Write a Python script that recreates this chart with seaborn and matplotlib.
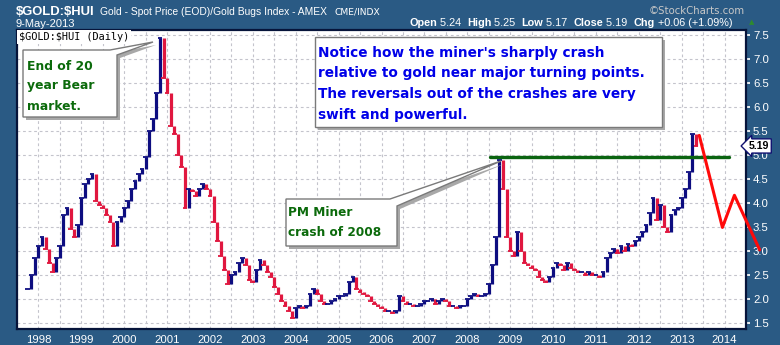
import numpy as np
import pandas as pd
import matplotlib
matplotlib.use("Agg")
import matplotlib.pyplot as plt
import seaborn as sns
from matplotlib.patches import Polygon

# ---------------- data (monthly closes of $GOLD:$HUI) ----------------
start_year, start_month = 1997, 10
close_1997 = [2.2, 2.5, 2.85]
close_1998 = [3.1, 3.3, 3.05, 2.75, 2.55, 2.85, 3.1, 3.75, 3.9, 3.45, 3.3, 3.55]
close_1999 = [4.1, 4.4, 4.5, 4.6, 4.05, 3.95, 3.9, 3.75, 3.6, 3.1, 3.6, 3.7]
close_2000 = [3.9, 4.05, 4.3, 4.45, 4.6, 4.7, 4.95, 5.5, 5.75, 6.3, 7.45, 6.6]
close_2001 = [6.3, 5.6, 5.45, 5.0, 4.75, 3.9, 4.3, 4.25, 4.15, 4.3, 4.4, 4.3]
close_2002 = [4.15, 3.6, 3.2, 2.9, 2.6, 2.3, 2.5, 2.55, 2.75, 2.85, 2.7, 2.4]
close_2003 = [2.35, 2.6, 2.8, 2.7, 2.55, 2.45, 2.25, 2.1, 1.95, 1.85, 1.75, 1.6]
close_2004 = [1.8, 1.85, 1.8, 1.85, 2.1, 2.2, 2.1, 1.95, 1.9, 1.9, 1.95, 2.0]
close_2005 = [2.05, 2.05, 2.1, 2.35, 2.45, 2.2, 2.15, 2.1, 2.05, 1.95, 1.9, 1.85]
close_2006 = [1.8, 1.75, 1.75, 1.7, 1.75, 2.05, 1.95, 1.9, 1.9, 1.85, 1.85, 1.9]
close_2007 = [1.95, 1.95, 2.0, 1.9, 1.95, 2.0, 1.95, 1.85, 1.85, 1.8, 1.85, 1.85]
close_2008 = [2.0, 2.05, 2.1, 2.05, 2.05, 2.1, 2.3, 2.7, 3.3, 4.9, 4.3, 3.3]
close_2009 = [3.0, 2.9, 3.4, 3.0, 2.75, 2.7, 2.65, 2.6, 2.45, 2.4, 2.35, 2.45]
close_2010 = [2.65, 2.75, 2.7, 2.6, 2.75, 2.65, 2.6, 2.55, 2.55, 2.5, 2.55, 2.5]
close_2011 = [2.5, 2.45, 2.55, 2.85, 2.95, 3.05, 2.95, 3.1, 3.0, 3.15, 3.1, 3.2]
close_2012 = [3.3, 3.4, 3.55, 3.8, 4.1, 3.65, 3.95, 3.5, 3.4, 3.75, 3.85, 3.9]
close_2013 = [4.1, 4.3, 4.65, 5.45, 5.19]

year_ticks = list(range(1998, 2015))
value_ticks = [1.5, 2.0, 2.5, 3.0, 3.5, 4.0, 4.5, 5.0, 5.5, 6.0, 6.5, 7.0, 7.5]

resist_x = [2008.52, 2014.11]
resist_y = [4.95, 4.95]
proj_x = [2013.41, 2013.95, 2014.23, 2014.82]
proj_y = [5.41, 3.49, 4.16, 3.02]

last_value = 5.19

closes = (close_1997 + close_1998 + close_1999 + close_2000 + close_2001 + close_2002
          + close_2003 + close_2004 + close_2005 + close_2006 + close_2007 + close_2008
          + close_2009 + close_2010 + close_2011 + close_2012 + close_2013)
n = len(closes)
t = [start_year + (start_month - 1 + i) / 12.0 for i in range(n)]
df = pd.DataFrame({"t": t, "close": closes})
df["open"] = df["close"].shift(1).fillna(df["close"])
df["dir"] = np.where(df["close"] >= df["open"], "up", "down")

# ---------------- style ----------------
BG = "#2a5a84"
W, H = 780, 345
sns.set_theme(style="white")
plt.rcParams["font.family"] = ["Liberation Sans", "DejaVu Sans"]

fig = plt.figure(figsize=(W / 100, H / 100), dpi=100, facecolor=BG)
renderer = fig.canvas.get_renderer()

def P(x, y):
    return (x / W, 1 - y / H)

def width_px(tt):
    return tt.get_window_extent(renderer=renderer).width

L, R, T, B = 17, 746, 30, 329
ax = fig.add_axes([L / W, 1 - B / H, (R - L) / W, (B - T) / H])
ax.set_facecolor("white")

up_c, dn_c = "#0d0d80", "#e0173f"
cols = np.where(df["dir"] == "up", up_c, dn_c)
ax.vlines(df["t"], df[["open", "close"]].min(axis=1), df[["open", "close"]].max(axis=1),
          colors=cols, lw=2.3, zorder=3)
sns.scatterplot(data=df, x="t", y="close", hue="dir", palette={"up": up_c, "down": dn_c},
                marker="_", s=12, linewidth=1.3, legend=False, ax=ax, zorder=4)

sns.lineplot(x=resist_x, y=resist_y, color="#0a6410", lw=2.4, ax=ax, zorder=5)
sns.lineplot(x=proj_x, y=proj_y, color="#ff0a0a", lw=2.2, ax=ax, zorder=5, sort=False)
for ln in ax.lines[-1:]:
    ln.set_clip_on(False)

ax.set_xlim(1997.73, 2014.34)
ax.set_ylim(1.37, 7.61)
ax.set_xticks(year_ticks)
ax.set_xticklabels([str(y) for y in year_ticks])
ax.set_xticks([y + 0.5 for y in range(1997, 2015)], minor=True)
ax.set_yticks(value_ticks)
ax.set_yticklabels([f"{v:.1f}" for v in value_ticks])
ax.yaxis.tick_right()
ax.grid(True, which="both", color="#c4c4cc", ls=(0, (2.5, 2.5)), lw=0.8)
ax.set_axisbelow(True)
ax.tick_params(axis="x", which="both", length=0, colors="white", labelsize=8.2, pad=4)
ax.tick_params(axis="y", which="both", length=3, colors="white", labelsize=8.2, pad=2,
               right=True, left=False, direction="out")
ax.set_xlabel("")
ax.set_ylabel("")
for s in ax.spines.values():
    s.set_color("#06143a")
    s.set_linewidth(1.6)

# ---------------- header ----------------
t1 = fig.text(*P(16, 12), "\\$GOLD:\\$HUI", color="white", fontsize=9.4, fontweight="bold",
              va="center")
x2 = 16 + width_px(t1) + 5
t2 = fig.text(*P(x2, 12), "Gold - Spot Price (EOD)/Gold Bugs Index - AMEX", color="white",
              fontsize=7.4, va="center")
x3 = x2 + width_px(t2) + 8
fig.text(*P(x3, 12), "CME/INDX", color="white", fontsize=6.6, va="center",
         family=["DejaVu Sans"])
fig.text(*P(16, 24), "9-May-2013", color="white", fontsize=8.0, va="center")
fig.text(*P(745, 11), "\u00a9StockCharts.com", color="#c8c8c8", fontsize=7.3, va="center",
         ha="right", family=["DejaVu Sans"])

parts = [("Open", True), (" 5.24  ", False), ("High", True), (" 5.25  ", False),
         ("Low", True), (" 5.17  ", False), ("Close", True), (" 5.19  ", False),
         ("Chg", True), (" +0.06 (+1.09%)", False)]
x = 409
for txt, bold in parts:
    tt = fig.text(*P(x, 23.5), txt, color="white", fontsize=7.8,
                  fontweight="bold" if bold else "normal", va="center")
    x += width_px(tt)
fig.text(*P(752, 22), "\u25b2", color="#2e8b2e", fontsize=5, va="center", ha="center",
         family=["DejaVu Sans"])

# ---------------- inside-plot label ----------------
fig.text(*P(19, 37), "\\$GOLD:\\$HUI (Daily)", color="black", fontsize=7.4, va="center",
         family=["DejaVu Sans Mono"],
         bbox=dict(boxstyle="square,pad=0.15", fc="white", ec="none"))

# ---------------- callouts ----------------
def callout(pts, shadow=3):
    sh = [(x + shadow, y + shadow) for x, y in pts]
    fig.patches.append(Polygon([P(*p) for p in sh], closed=True, transform=fig.transFigure,
                               fc="#a8a8a8", ec="none", zorder=6, figure=fig))
    fig.patches.append(Polygon([P(*p) for p in pts], closed=True, transform=fig.transFigure,
                               fc="white", ec="#7a7a7a", lw=1.0, zorder=7, figure=fig))

callout([(23, 50), (110, 50), (153, 42), (117, 55), (117, 117), (23, 117)])
callout([(315, 37), (662, 37), (662, 127), (315, 127)])
callout([(286, 199), (390, 199), (501, 161), (397, 206), (397, 246), (286, 246)])

green = "#0b6a0b"
blue = "#0000e8"
for i, line in enumerate(["End of 20", "year Bear", "market."]):
    fig.text(*P(27, 66 + 20 * i), line, color=green, fontsize=8.9, fontweight="bold",
             va="center", family=["DejaVu Sans"], zorder=8)
for i, line in enumerate(["Notice how the miner's sharply crash",
                          "relative to gold near major turning points.",
                          "The reversals out of the crashes are very",
                          "swift and powerful."]):
    fig.text(*P(318, 52.5 + 20.7 * i), line, color=blue, fontsize=9.8, fontweight="bold",
             va="center", family=["DejaVu Sans"], zorder=8)
for i, line in enumerate(["PM Miner", "crash of 2008"]):
    fig.text(*P(288, 213 + 20 * i), line, color=green, fontsize=8.7, fontweight="bold",
             va="center", family=["DejaVu Sans"], zorder=8)

# ---------------- last value tag ----------------
ax.annotate(f"{last_value:.2f}", xy=(1.0, last_value), xycoords=("axes fraction", "data"),
            xytext=(2, 0), textcoords="offset points", color="black", fontsize=7.6,
            fontweight="bold", va="center", ha="left",
            bbox=dict(boxstyle="larrow,pad=0.2", fc="white", ec="#101070", lw=1.0),
            annotation_clip=False, zorder=9)

fig.savefig("out.png", dpi=100, facecolor=BG)
